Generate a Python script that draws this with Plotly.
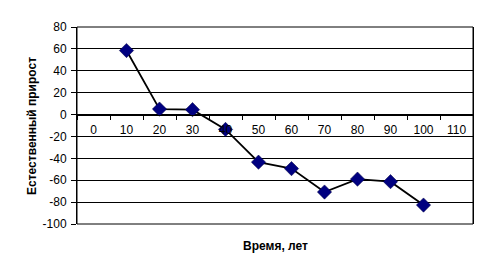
import plotly.graph_objects as go

categories = ["0", "10", "20", "30", "40", "50", "60", "70", "80", "90", "100", "110"]
values = [None, 58.5, 5, 4.5, -13.6, -43.5, -49.4, -70.8, -59, -61.3, -82.7, None]
y_ticks = [-100, -80, -60, -40, -20, 0, 20, 40, 60, 80]
y_tick_labels = ["-100", "-80", "-60", "-40", "-20", "0", "20", "40", "60", "80"]

x_title = "Время, лет"
y_title = "Естественный прирост"

L, R, T, B = 77, 17, 27, 52
W, H = 490, 276
zero_pos = (0 - (-100)) / 180.0

fig = go.Figure()
fig.add_trace(go.Scatter(
    x=categories, y=values, mode="lines+markers",
    line=dict(color="black", width=1.8),
    marker=dict(symbol="diamond", size=11, color="#000080",
                line=dict(color="#000040", width=0.5)),
    showlegend=False, cliponaxis=False,
))

font = dict(family="Liberation Sans, Arial, sans-serif", size=12, color="black")

fig.update_layout(
    width=W, height=H,
    margin=dict(l=L, r=R, t=T, b=B, pad=0),
    paper_bgcolor="white", plot_bgcolor="white",
    font=font,
    xaxis=dict(
        type="category", categoryorder="array", categoryarray=categories,
        range=[-0.5, 11.5], anchor="free", position=zero_pos,
        showgrid=False, showline=True, linecolor="black", linewidth=1,
        ticks="outside", ticklen=4, tickcolor="black", tickwidth=1,
        tickson="boundaries", ticklabelstandoff=4,
        tickfont=font, zeroline=False,
    ),
    yaxis=dict(
        range=[-100, 80], tickvals=y_ticks, ticktext=y_tick_labels,
        showgrid=True, gridcolor="black", gridwidth=1,
        zeroline=True, zerolinecolor="black", zerolinewidth=1,
        showline=True, linecolor="black", linewidth=1, mirror=True,
        ticks="outside", ticklen=5, tickcolor="black", tickwidth=1,
        tickfont=font, ticklabelstandoff=2,
    ),
    shapes=[dict(type="rect", xref="paper", yref="paper", x0=0, x1=1, y0=0, y1=1,
                 line=dict(color="black", width=1), layer="above")],
    annotations=[
        dict(text=f"<b>{x_title}</b>", xref="paper", yref="paper", x=0.5, y=-0.11,
             xanchor="center", yanchor="middle", showarrow=False,
             font=dict(family=font["family"], size=12, color="black")),
        dict(text=f"<b>{y_title}</b>", xref="paper", yref="paper", x=-0.115, y=0.5,
             xanchor="center", yanchor="middle", showarrow=False, textangle=-90,
             font=dict(family=font["family"], size=12, color="black")),
    ],
)

fig.write_html("out.html")
